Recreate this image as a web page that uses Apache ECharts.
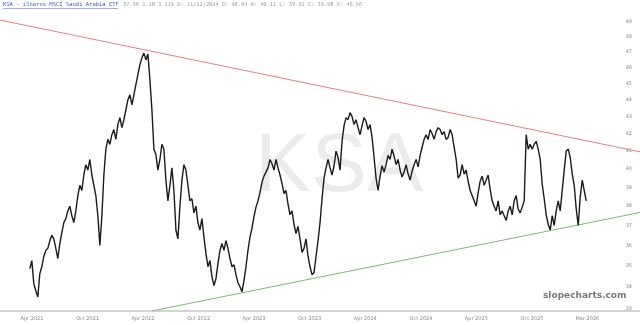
<!DOCTYPE html>
<html>
<head>
<meta charset="utf-8">
<script src="https://cdn.jsdelivr.net/npm/echarts@6/dist/echarts.min.js"></script>
<style>
  html, body { margin: 0; padding: 0; background: #fff; }
  #chart { width: 640px; height: 325px; }
</style>
</head>
<body>
<div id="chart"></div>
<script>
// KSA closes, one sample about every 6.6 days
const startDate = '2021-03-25';
const stepDays = 6.58;
const prices = [
  34.86, 35.25, 34.14, 33.81, 33.52, 34.62, 34.95, 35.45, 35.75, 35.85,
  36.23, 36.50, 36.32, 35.85, 35.35, 36.09, 36.64, 37.15, 37.35, 37.75,
  38.00, 37.50, 37.15, 37.75, 38.56, 39.11, 38.83, 39.67, 40.24, 39.94,
  40.53, 39.67, 39.11, 38.56, 37.50, 36.00, 37.50, 39.67, 41.11, 41.67,
  41.39, 41.94, 42.24, 41.67, 42.53, 42.94, 42.35, 42.82, 43.41, 44.00,
  44.31, 43.71, 44.31, 44.94, 45.56, 46.19, 46.63, 46.94, 46.50, 46.88,
  45.25, 43.41, 41.11, 40.82, 39.94, 40.53, 41.39, 41.11, 39.39, 38.28,
  39.11, 40.06, 38.83, 36.77, 36.32, 38.00, 39.39, 40.24, 39.94, 39.11,
  38.28, 38.39, 37.65, 38.00, 37.15, 36.77, 37.35, 36.41, 35.60, 34.95,
  35.25, 34.48, 34.05, 34.38, 35.10, 35.75, 36.09, 35.75, 36.23, 35.85,
  35.35, 34.95, 35.05, 34.57, 34.19, 34.00, 33.76, 34.29, 34.95, 35.75,
  36.41, 36.86, 37.45, 37.95, 38.28, 38.72, 39.28, 39.61, 39.83, 40.06,
  40.53, 40.29, 39.94, 40.53, 40.06, 39.67, 39.22, 38.67, 38.83, 38.11,
  37.55, 37.75, 37.05, 36.59, 36.95, 36.32, 35.65, 35.85, 36.32, 35.45,
  34.95, 34.57, 34.67, 35.45, 36.23, 37.15, 38.39, 39.50, 40.06, 40.53,
  40.06, 39.67, 40.18, 41.00, 40.65, 39.94, 41.56, 42.47, 42.94, 42.82,
  43.24, 43.00, 42.53, 42.82, 42.35, 41.94, 42.47, 42.94, 42.71, 42.24,
  42.53, 41.78, 40.65, 39.50, 38.83, 39.61, 40.18, 39.83, 40.24, 40.76,
  40.53, 41.11, 40.71, 40.24, 40.53, 39.94, 39.56, 39.83, 40.24, 39.72,
  39.39, 39.89, 40.24, 40.53, 40.12, 40.76, 41.22, 41.67, 41.94, 41.67,
  42.24, 42.00, 41.67, 42.12, 42.35, 42.24, 41.94, 42.12, 41.67, 41.78,
  42.24, 41.94, 41.22, 40.53, 39.50, 39.67, 40.24, 39.72, 39.94, 39.33,
  38.83, 38.56, 38.28, 38.00, 38.72, 39.33, 39.61, 39.11, 39.39, 39.67,
  38.89, 38.28, 38.00, 37.75, 38.28, 37.55, 37.75, 37.50, 37.25, 37.75,
  38.00, 37.55, 38.28, 38.56, 37.85, 37.65, 37.95, 38.28, 41.94, 41.11,
  41.39, 41.11, 41.39, 41.56, 41.11, 40.53, 39.17, 38.39, 37.55, 37.05,
  36.77, 37.50, 37.00, 37.75, 38.28, 37.75, 38.83, 39.94, 41.00, 41.11,
  40.65, 39.72, 39.11, 37.85, 37.00, 38.50, 39.39, 38.83, 38.28
];

// trendlines: [date, price] end points
const upperTrend = [['2020-12-17', 49.13], ['2026-09-21', 40.96]];
const lowerTrend = [['2022-04-30', 32.88], ['2026-09-21', 37.67]];

const tickDates = ['2021-04-01', '2021-10-01', '2022-04-01', '2022-10-01', '2023-04-01', '2023-10-01',
                   '2024-04-01', '2024-10-01', '2025-04-01', '2025-10-01', '2026-04-01'];
const tickNames = ['Apr 2021', 'Oct 2021', 'Apr 2022', 'Oct 2022', 'Apr 2023', 'Oct 2023',
                   'Apr 2024', 'Oct 2024', 'Apr 2025', 'Oct 2025', 'Mar 2026'];
const priceTicks = [33, 34, 35, 36, 37, 38, 39, 40, 41, 42, 43, 44, 45, 46, 47, 48, 49];

const headerName = 'KSA - iShares MSCI Saudi Arabia ETF';
const headerStats = '37.96 1.18 3.11% D: 11/12/2024 O: 40.04 H: 40.11 L: 39.92 C: 39.98 V: 46.56';

const toTime = s => new Date(s + 'T00:00:00Z').getTime();
const t0 = toTime(startDate);
const lineData = prices.map((p, i) => [t0 + Math.round(i * stepDays * 86400000), p]);
const tickTimes = tickDates.map(toTime);
const trend = pts => pts.map(p => [toTime(p[0]), p[1]]);

function setOption(ident, opt) {
    let myChart = echarts.init(document.getElementById(ident));
    myChart.setOption(opt);
}

setOption('chart', {
    animation: false,
    grid: { left: 0, right: 0, top: 0, bottom: 14 },
    xAxis: {
        type: 'value',
        min: toTime('2020-12-17'),
        max: toTime('2026-09-21'),
        axisLine: { lineStyle: { color: '#d4d4d4', width: 2 } },
        axisTick: { show: false },
        splitLine: { show: false },
        axisLabel: {
            customValues: tickTimes,
            margin: 5,
            fontSize: 5,
            color: '#888',
            fontFamily: 'DejaVu Sans',
            formatter: function (v) {
                let best = 0;
                tickTimes.forEach((t, i) => { if (Math.abs(t - v) < Math.abs(tickTimes[best] - v)) best = i; });
                return tickNames[best];
            }
        }
    },
    yAxis: {
        type: 'log',
        position: 'right',
        min: 32.88,
        max: 50.51,
        axisLine: { show: false },
        axisTick: { show: false },
        splitLine: { show: false },
        axisLabel: {
            inside: true,
            customValues: priceTicks,
            margin: 8,
            fontSize: 5,
            color: '#888',
            fontFamily: 'DejaVu Sans'
        }
    },
    series: [
        {
            name: 'upper',
            type: 'line',
            data: trend(upperTrend),
            symbol: 'none',
            lineStyle: { color: '#e67e7e', width: 1 },
            silent: true
        },
        {
            name: 'lower',
            type: 'line',
            data: trend(lowerTrend),
            symbol: 'none',
            lineStyle: { color: '#79bd6f', width: 1 },
            silent: true
        },
        {
            name: 'KSA',
            type: 'line',
            data: lineData,
            symbol: 'none',
            lineStyle: { color: '#1a1a1a', width: 1.4 },
            z: 3
        }
    ],
    graphic: [
        {
            type: 'text', left: 255, top: 126, z: 0,
            style: { text: 'KSA', fontSize: 84, fontFamily: 'Liberation Sans', fill: 'rgba(0,0,0,0.08)' }
        },
        {
            type: 'text', left: 543, top: 291,
            style: { text: 'slopecharts.com', fontSize: 9, fontWeight: 'bold', fontFamily: 'DejaVu Sans', fill: '#777' }
        },
        {
            type: 'text', left: 3, top: 2,
            style: { text: headerName, fontSize: 5.5, fontFamily: 'DejaVu Sans Mono', fill: '#4a5cc0' }
        },
        {
            type: 'rect', left: 3, top: 8.5,
            shape: { width: 115, height: 0.5 },
            style: { fill: '#4a5cc0' }
        },
        {
            type: 'text', left: 123, top: 2,
            style: { text: headerStats, fontSize: 5.3, fontFamily: 'DejaVu Sans Mono', fill: '#999' }
        }
    ]
});
</script>
</body>
</html>
